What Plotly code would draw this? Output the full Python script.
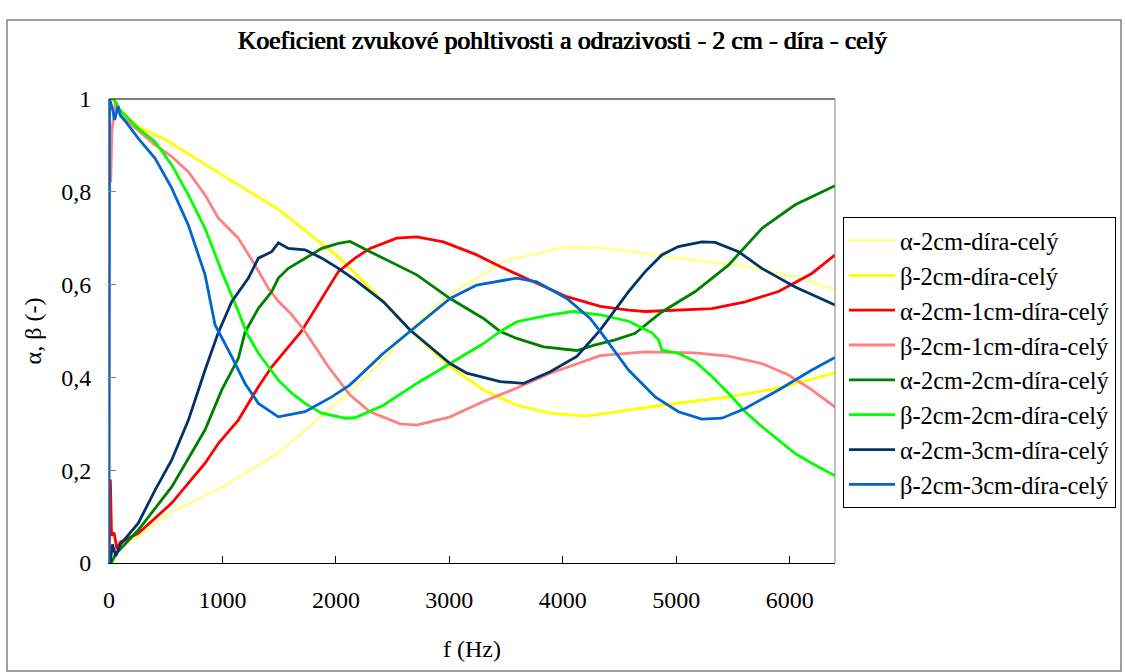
import plotly.graph_objects as go

# ---- data ----
names = ["α-2cm-díra-celý", "β-2cm-díra-celý", "α-2cm-1cm-díra-celý", "β-2cm-1cm-díra-celý",
         "α-2cm-2cm-díra-celý", "β-2cm-2cm-díra-celý", "α-2cm-3cm-díra-celý", "β-2cm-3cm-díra-celý"]
colors = ["#FFFF99", "#FFFF00", "#FF0000", "#FF8080", "#008000", "#00FF00", "#003366", "#0066CC"]

f_a2 = [30, 60, 100, 258, 500, 1000, 1500, 2000, 2125, 2400, 2654, 3000, 3500, 4000, 4286, 4727, 5168, 5609, 6050, 6400]
a2 = [0.0, 0.02, 0.035, 0.057, 0.103, 0.164, 0.238, 0.343, 0.369, 0.434, 0.502, 0.578, 0.652, 0.680, 0.680, 0.667, 0.653, 0.639, 0.617, 0.589]

f_b2 = [30, 100, 258, 500, 1000, 1500, 2000, 2125, 2419, 2654, 3007, 3301, 3595, 3889, 4183, 4286, 4873, 5461, 5902, 6400]
b2 = [1.0, 0.975, 0.940, 0.912, 0.836, 0.761, 0.664, 0.635, 0.563, 0.502, 0.423, 0.373, 0.340, 0.323, 0.317, 0.319, 0.340, 0.358, 0.377, 0.410]

f_a21 = [0, 12, 22, 45, 70, 100, 258, 553, 847, 965, 1140, 1317, 1435, 1581, 1699, 2022, 2169, 2301, 2537, 2713,
         2948, 3242, 3448, 3742, 4036, 4330, 4580, 4727, 5021, 5315, 5608, 5902, 6196, 6400]
a21 = [0.0, 0.18, 0.06, 0.065, 0.03, 0.045, 0.064, 0.129, 0.215, 0.258, 0.308, 0.380, 0.423, 0.466, 0.500, 0.628, 0.657, 0.678, 0.700, 0.703,
       0.692, 0.664, 0.639, 0.606, 0.574, 0.553, 0.545, 0.542, 0.545, 0.548, 0.563, 0.585, 0.624, 0.664]

f_b21 = [15, 25, 40, 60, 100, 258, 406, 553, 700, 847, 964, 1140, 1287, 1405, 1493, 1611, 1728, 1934, 2125, 2301, 2566, 2713,
         3007, 3301, 3595, 3889, 4183, 4330, 4727, 5168, 5461, 5755, 5990, 6196, 6400]
b21 = [0.82, 0.93, 0.96, 0.995, 0.965, 0.933, 0.901, 0.876, 0.843, 0.793, 0.743, 0.700, 0.642, 0.592, 0.564, 0.535, 0.499, 0.423, 0.362, 0.326, 0.300, 0.297,
       0.315, 0.348, 0.377, 0.409, 0.434, 0.447, 0.455, 0.453, 0.446, 0.430, 0.405, 0.373, 0.336]

f_a22 = [20, 60, 100, 258, 553, 847, 994, 1140, 1199, 1317, 1435, 1493, 1581, 1728, 1876, 2022, 2125, 2301, 2419, 2713,
         3007, 3301, 3448, 3595, 3830, 4124, 4286, 4462, 4638, 4727, 4873, 5168, 5461, 5755, 6049, 6400]
a22 = [0.0, 0.02, 0.03, 0.071, 0.164, 0.287, 0.373, 0.441, 0.497, 0.549, 0.585, 0.614, 0.635, 0.657, 0.678, 0.689, 0.693, 0.671, 0.657, 0.621,
       0.570, 0.527, 0.499, 0.484, 0.466, 0.458, 0.470, 0.481, 0.495, 0.513, 0.541, 0.585, 0.642, 0.721, 0.772, 0.813]

f_b22 = [40, 100, 258, 406, 553, 700, 847, 994, 1140, 1214, 1317, 1493, 1611, 1728, 1876, 2081, 2169, 2419, 2713, 3007,
         3301, 3448, 3595, 3889, 4095, 4330, 4580, 4786, 4844, 4874, 5020, 5168, 5315, 5461, 5608, 5755, 5902, 6049, 6196, 6400]
b22 = [1.0, 0.975, 0.937, 0.908, 0.858, 0.793, 0.721, 0.628, 0.542, 0.496, 0.452, 0.394, 0.366, 0.344, 0.323, 0.312, 0.313, 0.340, 0.387, 0.430,
       0.473, 0.499, 0.520, 0.535, 0.542, 0.535, 0.521, 0.496, 0.481, 0.459, 0.452, 0.434, 0.402, 0.366, 0.326, 0.294, 0.265, 0.236, 0.215, 0.188]

f_a23 = [10, 30, 60, 100, 258, 406, 553, 700, 847, 964, 1082, 1229, 1317, 1435, 1493, 1581, 1728, 1876, 2022, 2169, 2419, 2654,
         3007, 3154, 3448, 3654, 3889, 4124, 4330, 4580, 4727, 4873, 5020, 5226, 5344, 5549, 5755, 6049, 6400]
a23 = [0.0, 0.04, 0.015, 0.04, 0.086, 0.157, 0.222, 0.308, 0.416, 0.497, 0.563, 0.614, 0.657, 0.671, 0.690, 0.678, 0.675, 0.657, 0.635, 0.610, 0.563, 0.502,
       0.430, 0.409, 0.391, 0.387, 0.412, 0.445, 0.502, 0.585, 0.628, 0.664, 0.682, 0.692, 0.691, 0.671, 0.635, 0.595, 0.556]

f_b23 = [0, 5, 30, 50, 80, 100, 150, 258, 406, 553, 700, 847, 935, 1082, 1199, 1317, 1493, 1728, 1964, 2125, 2419, 2654,
         3007, 3242, 3595, 3771, 4036, 4242, 4330, 4580, 4815, 5020, 5226, 5403, 5608, 5902, 6196, 6400]
b23 = [0.0, 1.0, 0.98, 0.955, 0.985, 0.965, 0.95, 0.915, 0.872, 0.808, 0.728, 0.621, 0.513, 0.445, 0.387, 0.344, 0.315, 0.326, 0.358, 0.384, 0.452, 0.499,
       0.570, 0.599, 0.614, 0.606, 0.570, 0.527, 0.499, 0.416, 0.358, 0.326, 0.310, 0.312, 0.333, 0.373, 0.416, 0.443]

xs = [f_a2, f_b2, f_a21, f_b21, f_a22, f_b22, f_a23, f_b23]
ys = [a2, b2, a21, b21, a22, b22, a23, b23]

x_ticks = [0, 1000, 2000, 3000, 4000, 5000, 6000]
y_ticks = [0, 0.2, 0.4, 0.6, 0.8, 1]

FONT = "Liberation Serif"

fig = go.Figure()
for n, c, x, y in zip(names, colors, xs, ys):
    fig.add_trace(go.Scatter(x=x, y=y, mode="lines", name=n,
                             line=dict(color=c, width=2.8)))

# plot area: x 109..835, y 99..563 px
W, H = 1125, 672
L, R, T, B = 109, 835, 99, 563
pw, ph = R - L, B - T

def px2x(p):
    return (p - L) / pw

def py2y(p):
    return (B - p) / ph

fig.update_layout(
    width=W, height=H,
    margin=dict(l=L, r=W - R, t=T, b=H - B, pad=0, autoexpand=False),
    paper_bgcolor="white", plot_bgcolor="white",
    separators=", ",
    font=dict(family=FONT, size=24, color="black"),
    title=dict(text="Koeficient zvukové pohltivosti a odrazivosti - 2 cm - díra - celý",
               x=0.5, xref="container", xanchor="center",
               y=1 - 40 / H, yref="container", yanchor="middle",
               font=dict(family=FONT, size=25.5, color="black",
                         shadow="0.7px 0 0 black, -0.3px 0 0 black")),
    xaxis=dict(range=[0, 6400], tickvals=x_ticks, ticks="inside", ticklen=7, tickcolor="black",
               showline=True, linecolor="black", linewidth=1, mirror=False,
               showgrid=False, zeroline=False, ticklabelstandoff=15,
               tickfont=dict(family=FONT, size=24),
               title=dict(text="f (Hz)", standoff=28, font=dict(family=FONT, size=24))),
    yaxis=dict(range=[0, 1], tickvals=y_ticks, ticks="inside", ticklen=7, tickcolor="#808080",
               showline=True, linecolor="#808080", linewidth=1,
               showgrid=False, zeroline=False, ticklabelstandoff=12,
               tickfont=dict(family=FONT, size=24),
               title=dict(text="α, β (-)", standoff=12, font=dict(family=FONT, size=24))),
    legend=dict(x=px2x(843), y=py2y(217), xanchor="left", yanchor="top",
                bordercolor="black", borderwidth=1, bgcolor="white",
                font=dict(family=FONT, size=24.5), tracegroupgap=0, itemwidth=46),
    showlegend=True,
)

# plot-area frame (top black, right gray)
fig.add_shape(type="line", xref="paper", yref="paper", x0=0, x1=1, y0=1, y1=1,
              line=dict(color="black", width=1))
fig.add_shape(type="line", xref="paper", yref="paper", x0=1, x1=1, y0=0, y1=1,
              line=dict(color="#808080", width=1))
# outer chart border
fig.add_shape(type="rect", xref="paper", yref="paper",
              x0=px2x(7), x1=px2x(1121), y0=py2y(671), y1=py2y(20),
              line=dict(color="#808080", width=1.5), layer="below")

fig.write_html("out.html", config={"displayModeBar": False},
               post_script="document.body.style.margin='0';")
